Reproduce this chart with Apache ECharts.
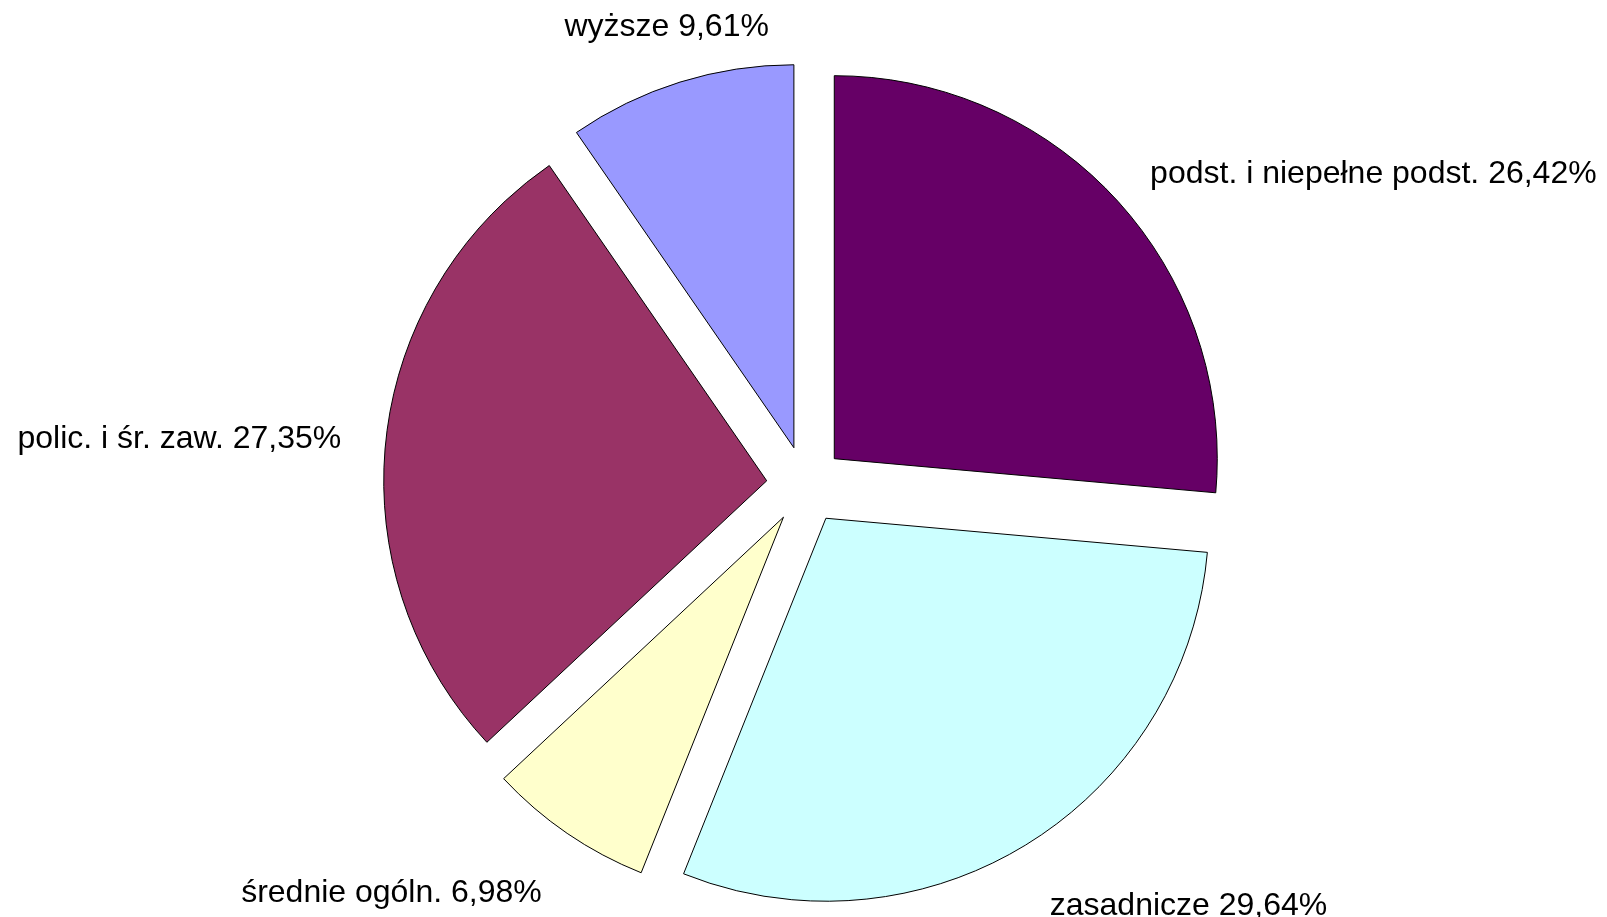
<!DOCTYPE html>
<html>
<head>
<meta charset="utf-8">
<script src="https://cdn.jsdelivr.net/npm/echarts@6/dist/echarts.min.js"></script>
<style>
  html, body { margin: 0; background: #fff; }
  #chart { width: 1607px; height: 917px; }
</style>
</head>
<body>
<div id="chart"></div>
<script>
// udział wg wykształcenia (%), od godziny 12 zgodnie z ruchem wskazówek
const categories = ['podst. i niepełne podst.', 'zasadnicze', 'średnie ogóln.', 'polic. i śr. zaw.', 'wyższe']
const shares = [26.42, 29.64, 6.98, 27.35, 9.61]
const colors = ['#660066', '#CCFFFF', '#FFFFCC', '#993366', '#9999FF']

// geometria koła
const cx = 805.5, cy = 485
const radius = 383
const explode = 39
const labelDist = 467
const labelCy = cy + 4

const total = shares.reduce((a, b) => a + b, 0)

// kierunek dwusiecznej wycinka i
function midDir(i) {
  let before = 0
  for (let k = 0; k < i; k++) before += shares[k]
  const a = 2 * Math.PI * (before + shares[i] / 2) / total
  return [Math.sin(a), -Math.cos(a)]
}

function fmt(v) {
  return v.toFixed(2).replace('.', ',') + '%'
}

// etykiety jak w Excelu: najbliższy punkt ramki leży na dwusiecznej
const labels = categories.map((name, i) => {
  const [dx, dy] = midDir(i)
  const vAlign = dy > 0.3 ? 'top' : (dy < -0.7 ? 'bottom' : 'middle')
  return {
    type: 'text',
    x: cx + dx * labelDist,
    y: labelCy + dy * labelDist + (vAlign === 'top' ? 3 : 0),
    style: {
      text: name + ' ' + fmt(shares[i]),
      fill: '#000000',
      fontFamily: 'Liberation Sans, Arial, sans-serif',
      fontSize: 32,
      align: dx > 0.3 ? 'left' : (dx < -0.3 ? 'right' : 'center'),
      verticalAlign: vAlign
    },
    z: 10
  }
})

const chart = echarts.init(document.getElementById('chart'))

chart.setOption({
  backgroundColor: '#ffffff',
  animation: false,
  graphic: labels,
  series: [{
    type: 'pie',
    center: [cx, cy],
    radius: [0, radius],
    startAngle: 90,
    clockwise: true,
    selectedMode: 'multiple',
    selectedOffset: explode,
    emphasis: { disabled: true },
    itemStyle: { borderColor: '#000000', borderWidth: 1 },
    label: { show: false },
    labelLine: { show: false },
    data: categories.map((name, i) => ({
      name: name,
      value: shares[i],
      selected: true,
      itemStyle: { color: colors[i] }
    }))
  }]
})
</script>
</body>
</html>
